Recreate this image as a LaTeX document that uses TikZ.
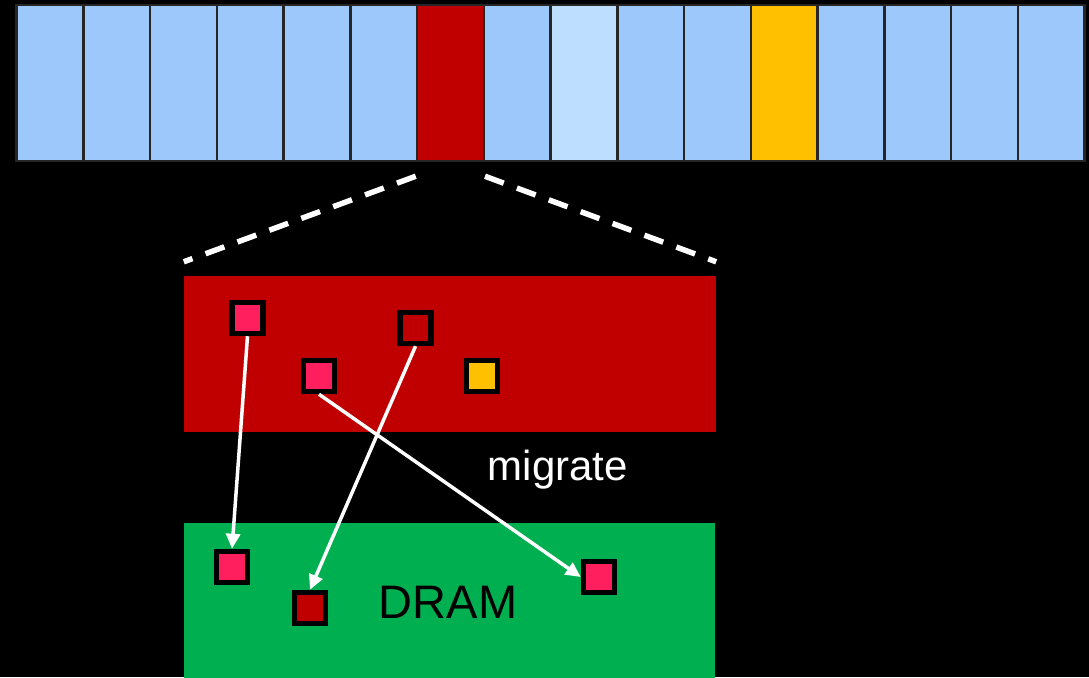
\documentclass[tikz,border=0pt]{standalone}
\usepackage{fontspec}
\setmainfont{Liberation Sans}
\usetikzlibrary{arrows.meta, positioning}

\definecolor{cellblue}{RGB}{157,200,252}
\definecolor{celllight}{RGB}{190,222,255}
\definecolor{cachered}{RGB}{192,0,0}
\definecolor{hotyellow}{RGB}{255,192,0}
\definecolor{dramgreen}{RGB}{0,176,80}
\definecolor{pagepink}{RGB}{255,30,94}

\begin{document}
\begin{tikzpicture}[
      x=1pt, y=1pt,
      cell/.style={draw=black!85, line width=2.5pt, minimum width=66.75pt, minimum height=156pt, inner sep=0pt},
      region/.style={minimum width=532pt, minimum height=156pt, inner sep=0pt},
      page/.style={draw=black, line width=5.5pt, minimum size=31pt, inner sep=0pt},
      zoomline/.style={white, line width=5.5pt, dash pattern=on 20pt off 14pt},
      move/.style={-{Triangle[length=15pt, width=14pt]}, white, line width=3.5pt}
    ]
    \fill[black] (0,0) rectangle (1089,677);
    \useasboundingbox (0,0) rectangle (1089,677);

    % row of sets
    \foreach \i in {1,...,16} {
      \node[cell, fill=cellblue] (c\i) at ({16.5+66.75*(\i-0.5)}, 594) {};
    }
    \node[cell, fill=cachered] at (c7) {};
    \node[cell, fill=celllight] at (c9) {};
    \node[cell, fill=hotyellow] at (c12) {};

    % zoomed set and memory
    \node[region, fill=cachered] (cache) at (450, 323) {};
    \node[region, fill=dramgreen, minimum width=531pt, minimum height=170pt] (dram) at (449.5, 69) {};
    \node[font=\fontsize{47}{50}\selectfont] (dramlbl) at (448, 75) {DRAM};
    \node[font=\fontsize{42}{45}\selectfont, white] (migr) at (558, 207) {migrate};

    \coordinate[below=14pt of c7.south west] (zl);
    \coordinate[below=14pt of c7.south east] (zr);
    \coordinate[above=14pt of cache.north west] (bl);
    \coordinate[above=14pt of cache.north east] (br);
    \draw[zoomline] (zl) -- (bl);
    \draw[zoomline] (zr) -- (br);

    % pages
    \node[page, fill=pagepink] (p1) at (247.5, 359) {};
    \node[page, fill=cachered] (p2) at (415.5, 349) {};
    \node[page, fill=pagepink] (p3) at (319, 301) {};
    \node[page, fill=hotyellow] (p4) at (482, 301) {};
    \node[page, fill=pagepink] (d1) at (232, 110) {};
    \node[page, fill=cachered] (d2) at (310, 69) {};
    \node[page, fill=pagepink] (d3) at (599, 100) {};

    \draw[move] (p1.south) -- (d1.north);
    \draw[move] (p2.south) -- (d2.north);
    \draw[move] (p3.south) -- (d3.west);
  \end{tikzpicture}
\end{document}
